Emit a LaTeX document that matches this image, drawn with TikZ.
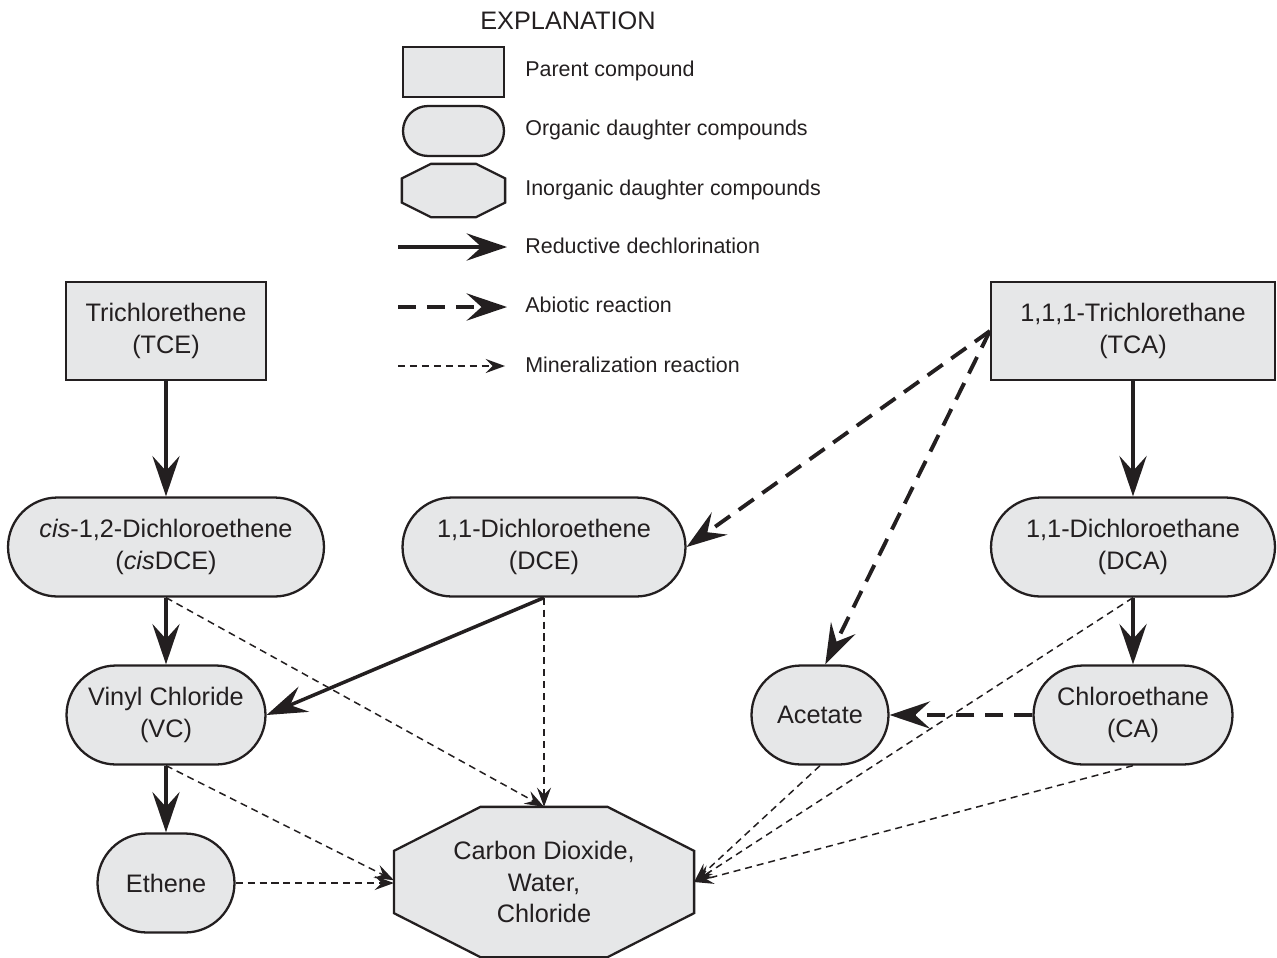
\documentclass[tikz,border=0pt]{standalone}
\usepackage{fontspec}
\setmainfont{Liberation Sans}
\usepackage{xcolor}
\usepackage{tikz}
\usetikzlibrary{calc,arrows.meta,backgrounds}
\definecolor{ink}{HTML}{231F20}
\definecolor{shade}{HTML}{E6E7E8}
\tikzset{
  outline/.style={draw=ink, fill=shade, line width=1.3pt, line join=miter},
  box/.style={outline, text=ink, align=center, inner sep=0pt, font=\fontsize{14.4}{18}\selectfont},
  parent/.style={box, rectangle, minimum height=1.96cm},
  organic/.style={box, rectangle, rounded corners=0.99cm, minimum height=1.98cm},
  inorg/.style={box, draw=none, fill=none},
  lab/.style={text=ink, anchor=west, inner sep=0pt, font=\fontsize{12.2}{14}\selectfont},
  reduct/.style={draw=ink, line width=2pt, -{Stealth[length=23pt,width=15.5pt,inset=8.5pt]}},
  abiotic/.style={reduct, line width=2.2pt, dash pattern=on 10.5pt off 6pt},
  mineral/.style={draw=ink, line width=0.85pt, dash pattern=on 4pt off 2.8pt, -{Stealth[length=11pt,width=8pt,inset=4pt]}},
}
% octagon drawn behind a plain node: node name, corner cut in x, corner cut in y
\newcommand{\octo}[3]{%
  \begin{scope}[on background layer]
    \draw[outline] ($(#1.north west)+(#2,0)$) -- ($(#1.north east)+(-#2,0)$)
      -- ($(#1.north east)+(0,#3)$) -- ($(#1.south east)+(0,-#3)$)
      -- ($(#1.south east)+(-#2,0)$) -- ($(#1.south west)+(#2,0)$)
      -- ($(#1.south west)+(0,-#3)$) -- ($(#1.north west)+(0,#3)$) -- cycle;
  \end{scope}}

\begin{document}
\begin{tikzpicture}[x=0.02cm, y=-0.02cm]
  \useasboundingbox (0,0) rectangle (1277,957);

  % explanation
  \node[text=ink, font=\fontsize{14.4}{16}\selectfont] (expl) at (568,21) {EXPLANATION};
  \node[parent, minimum width=2.02cm, minimum height=1.0cm] (lgpar) at (453.5,72) {};
  \node[organic, minimum width=2.02cm, minimum height=1.0cm, rounded corners=0.5cm] (lgorg) at (453.5,131) {};
  \node[inorg, minimum width=2.02cm, minimum height=1.02cm] (lgoct) at (453.5,190.5) {};
  \octo{lgoct}{29}{14.5}
  \coordinate (lgred1) at (398,247);
  \coordinate (lgred2) at (507,247);
  \coordinate (lgabi1) at (398,307);
  \coordinate (lgabi2) at (507,307);
  \coordinate (lgmin1) at (398,366);
  \coordinate (lgmin2) at (505,366);
  \draw[reduct] (lgred1) -- (lgred2);
  \draw[abiotic] (lgabi1) -- (lgabi2);
  \draw[mineral] (lgmin1) -- (lgmin2);
  \node[lab] (lgparlab) at (525,71) {Parent compound};
  \node[lab] (lgorglab) at (525,130) {Organic daughter compounds};
  \node[lab] (lgoctlab) at (525,190) {Inorganic daughter compounds};
  \node[lab] (lgredlab) at (525,246) {Reductive dechlorination};
  \node[lab] (lgabilab) at (525,305) {Abiotic reaction};
  \node[lab] (lgminlab) at (525,365) {Mineralization reaction};

  % compounds
  \node[parent, minimum width=4.0cm] (tce) at (166,331) {Trichlorethene\\(TCE)};
  \node[parent, minimum width=5.68cm] (tca) at (1133,331) {1,1,1-Trichlorethane\\(TCA)};
  \node[organic, minimum width=6.32cm] (cisdce) at (166,547) {\textit{cis}-1,2-Dichloroethene\\(\textit{cis}DCE)};
  \node[organic, minimum width=5.66cm] (dce) at (544,547) {1,1-Dichloroethene\\(DCE)};
  \node[organic, minimum width=5.68cm] (dca) at (1133,547) {1,1-Dichloroethane\\(DCA)};
  \node[organic, minimum width=3.98cm] (vc) at (166,715) {Vinyl Chloride\\(VC)};
  \node[organic, minimum width=2.74cm] (acetate) at (820,715) {Acetate};
  \node[organic, minimum width=3.98cm] (ca) at (1133,715) {Chloroethane\\(CA)};
  \node[organic, minimum width=2.74cm] (ethene) at (166,883) {Ethene};
  \node[inorg, minimum width=5.96cm, minimum height=2.96cm] (oct) at (544,882) {Carbon Dioxide,\\Water,\\Chloride};
  \octo{oct}{86.5}{44}

  \draw[reduct] (tce.south) -- (cisdce.north);
  \draw[reduct] (cisdce.south) -- (vc.north);
  \draw[reduct] (vc.south) -- (ethene.north);
  \draw[reduct] (dce.south) -- (vc.east);
  \draw[reduct] (tca.south) -- (dca.north);
  \draw[reduct] (dca.south) -- (ca.north);

  \draw[abiotic] (tca.west) -- (dce.east);
  \draw[abiotic] (tca.west) -- ([xshift=3pt]acetate.north);
  \draw[abiotic] (ca.west) -- (acetate.east);

  \draw[mineral] (cisdce.south) -- (oct.north);
  \draw[mineral] (dce.south) -- (oct.north);
  \draw[mineral] (vc.south) -- ([yshift=1pt]oct.west);
  \draw[mineral] (ethene.east) -- (ethene.east -| oct.west);
  \draw[mineral] (dca.south) -- (oct.east);
  \draw[mineral] (acetate.south) -- (oct.east);
  \draw[mineral] (ca.south) -- (oct.east);
\end{tikzpicture}
\end{document}
